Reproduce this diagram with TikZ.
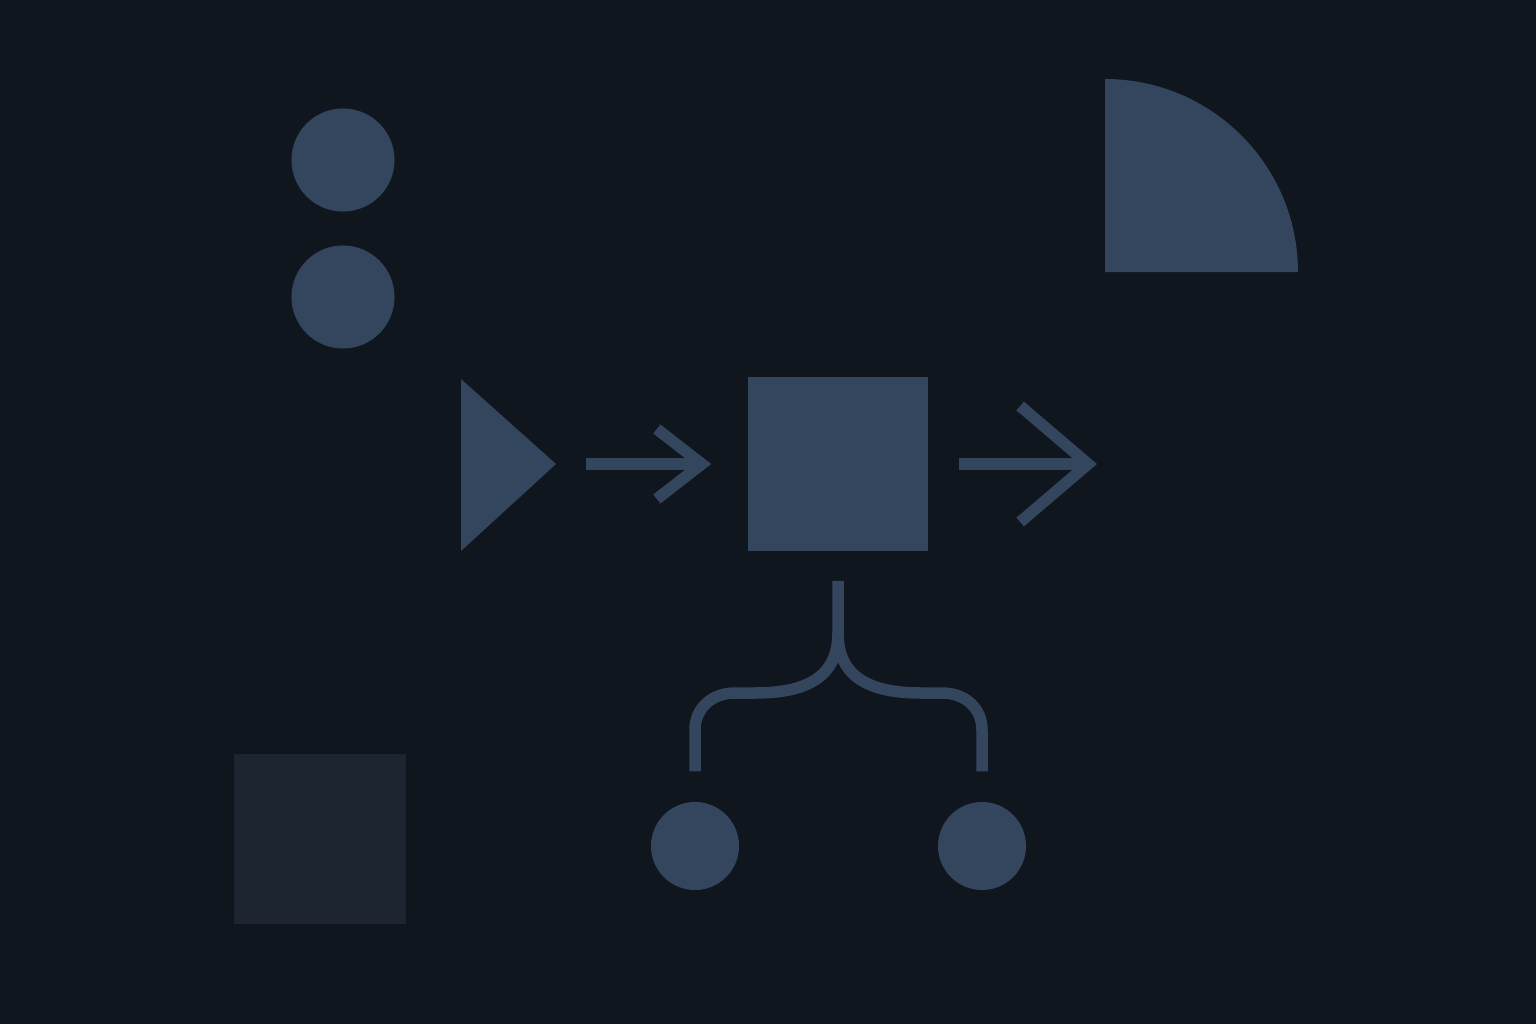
\documentclass[tikz,border=0pt]{standalone}
\usetikzlibrary{arrows.meta,positioning}
\definecolor{bgdark}{HTML}{10161E}
\definecolor{slate}{HTML}{34455E}
\definecolor{dimslate}{HTML}{1C2530}
\tikzset{
  blob/.style={circle, fill=slate, minimum size=1.03cm, inner sep=0pt},
  leaf/.style={blob, minimum size=0.88cm},
  bigblock/.style={fill=slate, minimum width=1.80cm, minimum height=1.74cm, inner sep=0pt},
  flow/.style={draw=slate, line width=0.115cm},
}
\begin{document}
\begin{tikzpicture}[x=0.01cm, y=-0.01cm]
        % Background and frame
        \fill[bgdark] (0,0) rectangle (1536,1024);
        \useasboundingbox (0,0) rectangle (1536,1024);

        % Dots on the left
        \node[blob] (dotA) at (343,160) {};
        \node[blob] (dotB) at (343,297) {};

        % Quarter disc top right
        \fill[slate] (1105,272) -- (1105,79) arc (-90:0:193) -- cycle;

        % Play triangle and the main block
        \fill[slate] (461,379) -- (556,464) -- (461,551) -- cycle;
        \coordinate (play) at (556,464);
        \node[bigblock] (hub) at (838,464) {};
        \coordinate (out) at (1097,464);

        % Arrows in and out
        \draw[flow, shorten <=0.30cm, shorten >=0.36cm, -{Straight Barb[length=0.45cm, width=0.70cm]}] (play) -- (hub.west);
        \draw[flow, shorten <=0.30cm, -{Straight Barb[length=0.68cm, width=1.16cm]}] (hub.east) -- (out);

        % Leaves and the fork
        \node[leaf] (leafL) at (695,846) {};
        \node[leaf] (leafR) at (982,846) {};
        \coordinate (fork) at (838,633);
        \draw[flow] ([yshift=-0.29cm]hub.south) -- (fork)
            .. controls (838,678) and (805,693) .. (755,693) -- (735,693)
            .. controls (712,693) and (695,708) .. (695,730) -- ([yshift=0.30cm]leafL.north);
        \draw[flow] (fork)
            .. controls (838,678) and (871,693) .. (921,693) -- (942,693)
            .. controls (965,693) and (982,708) .. (982,730) -- ([yshift=0.30cm]leafR.north);

        % Faded block bottom left
        \node[fill=dimslate, minimum width=1.71cm, minimum height=1.70cm, inner sep=0pt] (shade) at (320,839) {};
    \end{tikzpicture}
\end{document}
